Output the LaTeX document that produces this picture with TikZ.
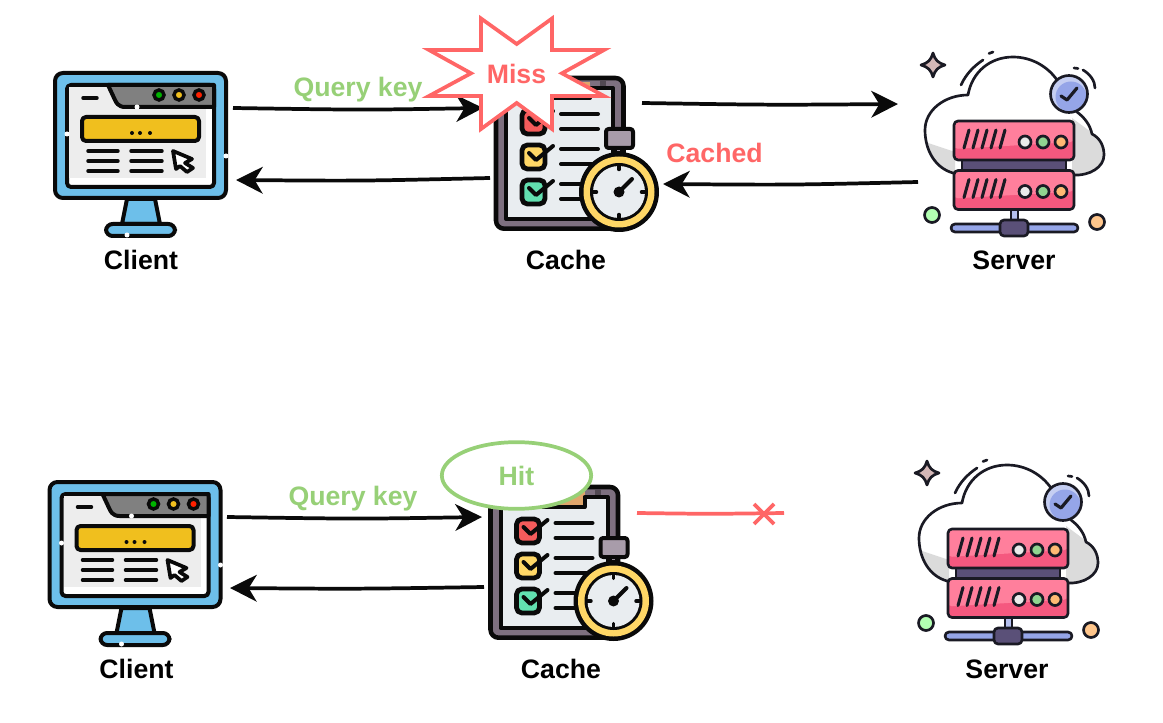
\documentclass[tikz,border=0pt]{standalone}
\usepackage{fontspec}
\setmainfont{Liberation Sans}
\usetikzlibrary{arrows.meta,shapes.geometric}
\definecolor{ink}{HTML}{0A0A0A}
\definecolor{missred}{HTML}{FF6666}
\definecolor{hitgreen}{HTML}{97D077}
\definecolor{monblue}{HTML}{6DBFEA}
\definecolor{barbar}{HTML}{F0BF1E}
\definecolor{paper}{HTML}{E9EDF0}
\definecolor{frameg}{HTML}{7E7080}
\definecolor{capg}{HTML}{A89CAA}
\definecolor{ringy}{HTML}{FFD766}
\definecolor{srvlo}{HTML}{F5587F}
\definecolor{srvhi}{HTML}{FF7F9C}
\definecolor{srvdark}{HTML}{5A5078}
\definecolor{periw}{HTML}{95A5E8}
\definecolor{outline}{HTML}{1A1A24}
\newcommand{\cloudpath}{(953,173) .. controls (935,168) and (925,150) .. (925,130) .. controls (925,110) and (945,95) .. (968,95) .. controls (972,72) and (990,57) .. (1013,57) .. controls (1032,57) and (1048,67) .. (1057,80) -- (1077,112) .. controls (1085,118) and (1090,125) .. (1092,134) .. controls (1100,138) and (1104,146) .. (1104,155) .. controls (1104,167) and (1090,176) .. (1073,175) -- cycle}
\newcommand{\srvbox}[1]{%
  \fill[srvlo,rounded corners=3pt] (954,#1) rectangle (1074,#1+39);
  \fill[srvhi,rounded corners=3pt] (954,#1) -- (1074,#1) -- (1074,#1+21) -- (954,#1+28) -- cycle;
  \draw[ol,rounded corners=3pt] (954,#1) rectangle (1074,#1+39);
  \foreach \s in {0,9,18,27,36} \draw[ol,line width=2.3pt,line cap=round] (964+\s,#1+27) -- (969+\s,#1+9);
  \draw[ol,fill=white!92!black] (1025,#1+21) circle (6);
  \draw[ol,fill=green!45!gray!60!white] (1043,#1+21) circle (6);
  \draw[ol,fill=orange!55!white] (1061,#1+21) circle (6);
}
\tikzset{
  x=0.75pt,y=-0.75pt,
  lbl/.style={font=\fontsize{20}{24}\selectfont\bfseries,text=black,inner sep=0pt,anchor=base},
  flow/.style={line width=2.8pt,draw=ink,-{Stealth[length=20pt,width=20pt,inset=6pt]}},
  redflow/.style={line width=2.8pt,draw=missred},
  bk/.style={draw=ink,line width=3pt,line join=round},
  thin bk/.style={draw=ink,line width=2.6pt,line cap=round},
  ol/.style={draw=outline,line width=2pt,line join=round},
  gap/.style={fill=white},
  clientpic/.pic={
    \draw[bk,fill=monblue] (127,199) -- (155,199) -- (160,224) -- (122,224) -- cycle;
    \draw[bk,fill=monblue,rounded corners=5pt] (106,224) rectangle (175,236);
    \draw[bk,fill=monblue,rounded corners=6pt] (55,73) rectangle (226,198);
    \draw[bk,fill=white,rounded corners=3pt] (67,85) rectangle (214,187);
    \fill[black!7] (69,87) rectangle (206,178);
    \draw[bk,fill=black!50,line join=round] (108,85) -- (214,85) -- (214,107) -- (125,107) .. controls (118,107) and (116,102) .. (115,100) -- cycle;
    \draw[thin bk,fill=green!70!black] (159,95) circle (5);
    \draw[thin bk,fill=barbar] (179,95) circle (5);
    \draw[thin bk,fill=red!75!orange] (199,95) circle (5);
    \draw[thin bk] (83,98) -- (97,98);
    \draw[bk,fill=barbar,rounded corners=3pt] (82,117) rectangle (199,141);
    \foreach \q in {132,140,150} \fill[ink] (\q,133) circle (2);
    \foreach \q in {151,161,171} {\draw[thin bk] (88,\q) -- (118,\q); \draw[thin bk] (131,\q) -- (162,\q);}
    \draw[bk,fill=white,line width=2.8pt] (173,151) -- (192,159) -- (185,163) -- (193,168) -- (187,172) -- (180,166) -- (176,169) -- cycle;
    \fill[gap] (137,107) circle (2.5);
    \fill[gap] (67,134) circle (2.5);
    \fill[gap] (226,156) circle (2.5);
    \fill[gap] (127,235) circle (2.5);
  },
  cachepic/.pic={
    \draw[bk,line width=3.4pt,fill=frameg,rounded corners=6pt] (496,78) rectangle (623.5,228.7);
    \fill[black!35!frameg] (600,80) rectangle (606,88);
    \fill[orange!65!gray!70!white] (525,82) rectangle (590,98);
    \draw[bk,fill=paper] (506,98) -- (590,98) -- (590,88) -- (613,88) -- (613,219) -- (506,219) -- cycle;
    \foreach \q/\c in {110/F45B5B,145/FFD766,180/62E0B0} {
      \definecolor{tickbox}{HTML}{\c}
      \draw[bk,line width=3.6pt,fill=tickbox,rounded corners=4pt] (522,\q) rectangle (545,\q+24);
      \draw[bk,line cap=round] (529,\q+8) -- (536,\q+15) -- (553,\q+1);
    }
    \foreach \q in {114,129,149,164,184,199} \draw[thin bk,line width=3pt] (561,\q) -- (598,\q);
    \draw[bk,fill=capg] (615,140) rectangle (622,153);
    \draw[bk,fill=capg,rounded corners=2pt] (606,129) rectangle (633,148);
    \fill[ink] (619,192) circle (40);
    \fill[ringy] (619,192) circle (35.5);
    \fill[ink] (619,192) circle (29);
    \fill[paper] (619,192) circle (26);
    \foreach \a in {0,90,180,270} \draw[thin bk] (619,192) ++(\a:26) -- ++(\a:-3.5);
    \draw[thin bk,line width=3pt] (619,192) -- (632,179);
    \fill[ink] (619,192) circle (5.5);
  },
  serverpic/.pic={
    \fill[white] \cloudpath;
    \begin{scope}
      \clip \cloudpath;
      \fill[black!14] (928,143) -- (955,152) -- (955,176) -- (935,170) -- cycle;
      \fill[black!14] (1072,118) -- (1095,135) -- (1110,150) -- (1110,180) -- (1072,180) -- cycle;
    \end{scope}
    \draw[ol] \cloudpath;
    \draw[ol,line cap=round] (961,85) .. controls (966,74) and (974,66) .. (983,60);
    \draw[ol,line cap=round] (989,53.5) -- (993,52);
    \draw[ol,line cap=round] (1083,70) .. controls (1090,74) and (1095,81) .. (1095,88);
    \draw[ol,line cap=round] (1074,68) -- (1078,68.5);
    \fill[periw!55!white] (1069,94) circle (18.5);
    \fill[periw] (1071,97) circle (15.5);
    \draw[ol] (1069,94) circle (18.5);
    \draw[ol,line width=2.4pt,line cap=round] (1061,96) -- (1067,100) -- (1077,88);
    \draw[ol,fill=srvdark] (962,160) rectangle (1066,170);
    \srvbox{121}
    \srvbox{170.5}
    \draw[ol,fill=periw!70!white] (1011,210) rectangle (1018,224);
    \draw[ol,fill=periw,rounded corners=3pt] (951,224) rectangle (1078,232);
    \draw[ol,fill=srvdark,rounded corners=3pt] (1000,220) rectangle (1028,236);
    \draw[ol,fill=green!30!white] (932,215) circle (7.5);
    \draw[ol,fill=orange!45!white] (1097,222) circle (7.5);
    \draw[ol,fill=red!25!gray!45!white] (933,53) .. controls (935,60) and (938,63) .. (945,65) .. controls (938,67) and (935,70) .. (933,77) .. controls (931,70) and (928,67) .. (921,65) .. controls (928,63) and (931,60) .. (933,53) -- cycle;
  }
}
\begin{document}
\begin{tikzpicture}
\fill[white] (0,0) rectangle (1163,723);
\useasboundingbox (0,0) rectangle (1163,723);
% icons
\pic at (0,0) {clientpic};
\pic at (0,0) {cachepic};
\pic at (0,0) {serverpic};
\pic at (-5.5,409) {clientpic};
\pic at (-5.5,409) {cachepic};
\pic at (-6,408) {serverpic};
% anchors
\coordinate (a1) at (233,108); \coordinate (a1m) at (363,110); \coordinate (b1) at (483,108);
\coordinate (a2) at (490,178); \coordinate (a2m) at (360,181); \coordinate (b2) at (236,180);
\coordinate (a3) at (642,103); \coordinate (a3m) at (770,105); \coordinate (b3) at (898,104);
\coordinate (a4) at (918,182); \coordinate (a4m) at (790,185); \coordinate (b4) at (663,184);
\coordinate (a5) at (227,517); \coordinate (a5m) at (357,519); \coordinate (b5) at (482,517);
\coordinate (a6) at (484,587); \coordinate (a6m) at (357,589); \coordinate (b6) at (230,588);
\coordinate (a7) at (637,513); \coordinate (a7m) at (710,514); \coordinate (b7) at (784,513);
\coordinate (x1) at (754,504); \coordinate (x2) at (774,524); \coordinate (x3) at (754,524); \coordinate (x4) at (774,504);
% connectors
\draw[flow] (a1) .. controls (a1m) .. (b1);
\draw[flow] (a2) .. controls (a2m) .. (b2);
\draw[flow] (a3) .. controls (a3m) .. (b3);
\draw[flow] (a4) .. controls (a4m) .. (b4);
\draw[flow] (a5) .. controls (a5m) .. (b5);
\draw[flow] (a6) .. controls (a6m) .. (b6);
\draw[redflow] (a7) .. controls (a7m) .. (b7);
\draw[redflow] (x1) -- (x2);
\draw[redflow] (x3) -- (x4);
% miss star
\draw[missred,line width=2.8pt,fill=white,line join=miter] (481,18.5) -- (516.7,44) -- (552,18.5) -- (552,50) -- (604,50) -- (562,73.3) -- (604,96) -- (552,96) -- (552,129) -- (516.7,103) -- (481,129) -- (481,96) -- (429,96) -- (471,73.3) -- (429,50) -- (481,50) -- cycle;
\node[lbl,text=missred] (miss) at (516.5,84) {Miss};
% hit ellipse
\node[ellipse,draw=hitgreen,line width=2.8pt,fill=white,minimum width=112pt,minimum height=50pt,inner sep=0pt,font=\fontsize{20}{24}\selectfont\bfseries,text=hitgreen] (hit) at (516.5,475.5) {Hit};
% labels
\node[lbl,text=hitgreen] (q1) at (358,97) {Query key};
\node[lbl,text=hitgreen] (q2) at (353,505) {Query key};
\node[lbl,text=missred] (cached) at (714.5,163) {Cached};
\node[lbl] (cl1) at (141,270) {Client};
\node[lbl] (ca1) at (566,270) {Cache};
\node[lbl] (se1) at (1014,270) {Server};
\node[lbl] (cl2) at (136.5,678) {Client};
\node[lbl] (ca2) at (561,678) {Cache};
\node[lbl] (se2) at (1007,678) {Server};
\end{tikzpicture}
\end{document}
